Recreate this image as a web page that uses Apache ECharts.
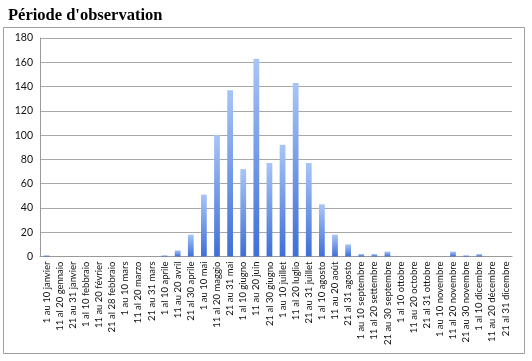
<!DOCTYPE html>
<html><head><meta charset="utf-8">
<script src="https://cdn.jsdelivr.net/npm/echarts@6/dist/echarts.min.js"></script>
<style>html,body{margin:0;padding:0;background:#fff;}#c{width:532px;height:361px;}</style>
</head><body><div id="c"></div>
<script>
const categories = ["1 au 10 janvier","11 al 20 gennaio","21 au 31 janvier","1 al 10 febbraio","11 au 20 février","21 al 28 febbraio","1 au 10 mars","11 al 20 marzo","21 au 31 mars","1 al 10 aprile","11 au 20 avril","21 al 30 aprile","1 au 10 mai","11 al 20 maggio","21 au 31 mai","1 al 10 giugno","11 au 20 juin","21 al 30 giugno","1 au 10 juillet","11 al 20 luglio","21 au 31 juillet","1 al 10 agosto","11 au 20 août","21 al 31 agosto","1 au 10 septembre","11 al 20 settembre","21 au 30 septembre","1 al 10 ottobre","11 au 20 octobre","21 al 31 ottobre","1 au 10 novembre","11 al 20 novembre","21 au 30 novembre","1 al 10 dicembre","11 au 20 décembre","21 al 31 dicembre"];
const values = [1,0,0,0,0,0,0,0,0,1,5,18,51,100,137,72,163,77,92,143,77,43,18,10,2,2,4,0,0,0,0,4,1,2,0,0];
const yTicks = [0,20,40,60,80,100,120,140,160,180];

const chart = echarts.init(document.getElementById('c'));
chart.setOption({
  animation:false,
  title:{text:"Période d'observation",left:3,top:2,textStyle:{fontFamily:'Liberation Serif',fontWeight:'bold',fontSize:16.5,color:'#000'}},
  graphic:[{type:'rect',shape:{x:3.5,y:27.5,width:521,height:326},style:{fill:'none',stroke:'#a0a0a0',lineWidth:1},z:-1}],
  grid:{left:40,right:20,top:38,bottom:104.5},
  xAxis:{type:'category',data:categories,
    axisLine:{lineStyle:{color:'#9a9a9a'}},axisTick:{show:false},
    axisLabel:{interval:0,rotate:90,fontSize:9.5,fontFamily:'Lato',color:'#111',margin:5}},
  yAxis:{type:'value',min:0,max:180,interval:20,
    axisLine:{show:true,lineStyle:{color:'#9a9a9a'}},axisTick:{show:false},
    splitLine:{lineStyle:{color:'#a8a8a8'}},
    axisLabel:{fontSize:10.5,fontFamily:'Lato',color:'#111',margin:7,
      formatter:v=>yTicks.includes(v)?String(v):''}},
  series:[{type:'bar',data:values,barWidth:'44%',
    itemStyle:{color:new echarts.graphic.LinearGradient(0,0,0,1,[{offset:0,color:'#a8c5f6'},{offset:1,color:'#3e6fd8'}])}}]
});
</script></body></html>
